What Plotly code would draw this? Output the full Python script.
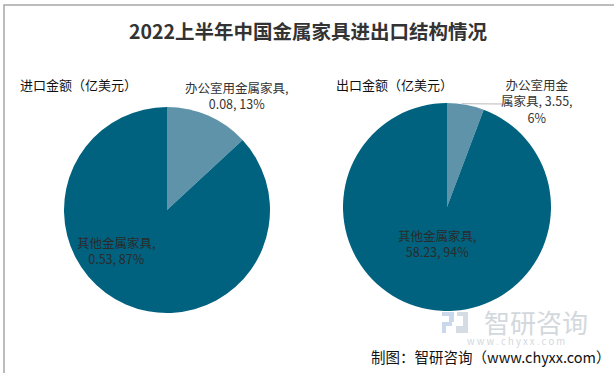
import math
import plotly.graph_objects as go

categories = ["办公室用金属家具", "其他金属家具"]
import_values = [0.08, 0.53]
import_pct = [13, 87]
export_values = [3.55, 58.23]
export_pct = [6, 94]

title = "2022上半年中国金属家具进出口结构情况"
sub_import = "进口金额（亿美元）"
sub_export = "出口金额（亿美元）"
source = "制图：智研咨询（www.chyxx.com）"

W, H = 614, 373
colors = ["#5e93a9", "#00627f"]
FONT = "Noto Sans CJK SC"

def px(x):
    return x / W

def py(y):
    return 1 - y / H

# pie geometry (pixels)
L_cx, L_cy, L_r = 167, 210, 103
R_cx, R_cy, R_r = 447, 207, 104

fig = go.Figure()
fig.add_trace(go.Pie(
    labels=categories, values=import_values, sort=False, direction="clockwise",
    rotation=0, marker=dict(colors=colors, line=dict(width=0)), textinfo="none",
    hoverinfo="label+value+percent", showlegend=False,
    domain=dict(x=[px(L_cx - L_r), px(L_cx + L_r)], y=[py(L_cy + L_r), py(L_cy - L_r)]),
))
fig.add_trace(go.Pie(
    labels=categories, values=export_values, sort=False, direction="clockwise",
    rotation=0, marker=dict(colors=colors, line=dict(width=0)), textinfo="none",
    hoverinfo="label+value+percent", showlegend=False,
    domain=dict(x=[px(R_cx - R_r), px(R_cx + R_r)], y=[py(R_cy + R_r), py(R_cy - R_r)]),
))

ann = []
def A(text, x, y, size=11, color="#333333", xanchor="center", yanchor="middle", align="center", **kw):
    ann.append(dict(text=text, x=px(x), y=py(y), xref="paper", yref="paper", showarrow=False,
                    xanchor=xanchor, yanchor=yanchor, align=align,
                    font=dict(family=FONT, size=size, color=color), **kw))

shapes = []
def R(x0, y0, x1, y1, color):
    shapes.append(dict(type="rect", xref="paper", yref="paper", x0=px(x0), y0=py(y1), x1=px(x1), y1=py(y0),
                       fillcolor=color, line=dict(width=0), layer="above"))

# watermark (drawn first so real text sits over it)
R(442, 312, 454, 316, "#c9d8ea")
R(449, 316, 454, 322, "#c9d8ea")
R(442, 322, 452, 326, "#c9d8ea")
R(442, 326, 446, 333, "#c9d8ea")
R(457, 312, 468, 316, "#d6dce3")
R(463, 316, 468, 326, "#d6dce3")
R(456, 326, 468, 333, "#d6dce3")
A("智研咨询", 536, 321, size=26, color="#d3d8dd")
A("w w w . c h y x x . c o m", 516, 341, size=9.5, color="#d3d8dd")

A("<b>" + title + "</b>", 308, 30, size=19.5, color="#333333")
A(sub_import, 18, 84, size=13, color="#111111", xanchor="left")
A(sub_export, 334, 84, size=13, color="#111111", xanchor="left")

# left labels
A(f"{categories[0]},<br>{import_values[0]}, {import_pct[0]}%", 236, 96, size=12.5, color="#333333")
A(f"{categories[1]},<br>{import_values[1]}, {import_pct[1]}%", 116, 250, size=12.5, color="#2b2b2b")
# right labels
A(f"{categories[1]},<br>{export_values[1]}, {export_pct[1]}%", 437, 243, size=12.5, color="#2b2b2b")
A(f"办公室用金<br>属家具, {export_values[0]},<br>{export_pct[0]}%", 537, 101, size=12.5, color="#333333")

# leader line for the small export slice, from slice mid-angle edge
share = export_values[0] / sum(export_values)
ang = math.radians(share * 360 / 2)
ex = R_cx + R_r * math.sin(ang)
ey = R_cy - R_r * math.cos(ang)
shapes.append(dict(type="line", xref="paper", yref="paper",
                   x0=px(ex - 4), y0=py(ey - 1), x1=px(502), y1=py(104),
                   line=dict(color="#bbbbbb", width=1)))

A(source, 613, 356, size=14.5, color="#111111", xanchor="right")

shapes.append(dict(type="rect", xref="paper", yref="paper", x0=px(4), y0=py(H + 5), x1=px(W + 5), y1=py(5),
                   line=dict(color="#a6a6a6", width=1.5)))

fig.update_layout(width=W, height=H, margin=dict(l=0, r=0, t=0, b=0),
                  paper_bgcolor="white", plot_bgcolor="white", annotations=ann, shapes=shapes,
                  font=dict(family=FONT))
fig.write_html("out.html", config={"displayModeBar": False},
               post_script="document.body.style.margin='0';document.body.style.overflow='hidden';")
